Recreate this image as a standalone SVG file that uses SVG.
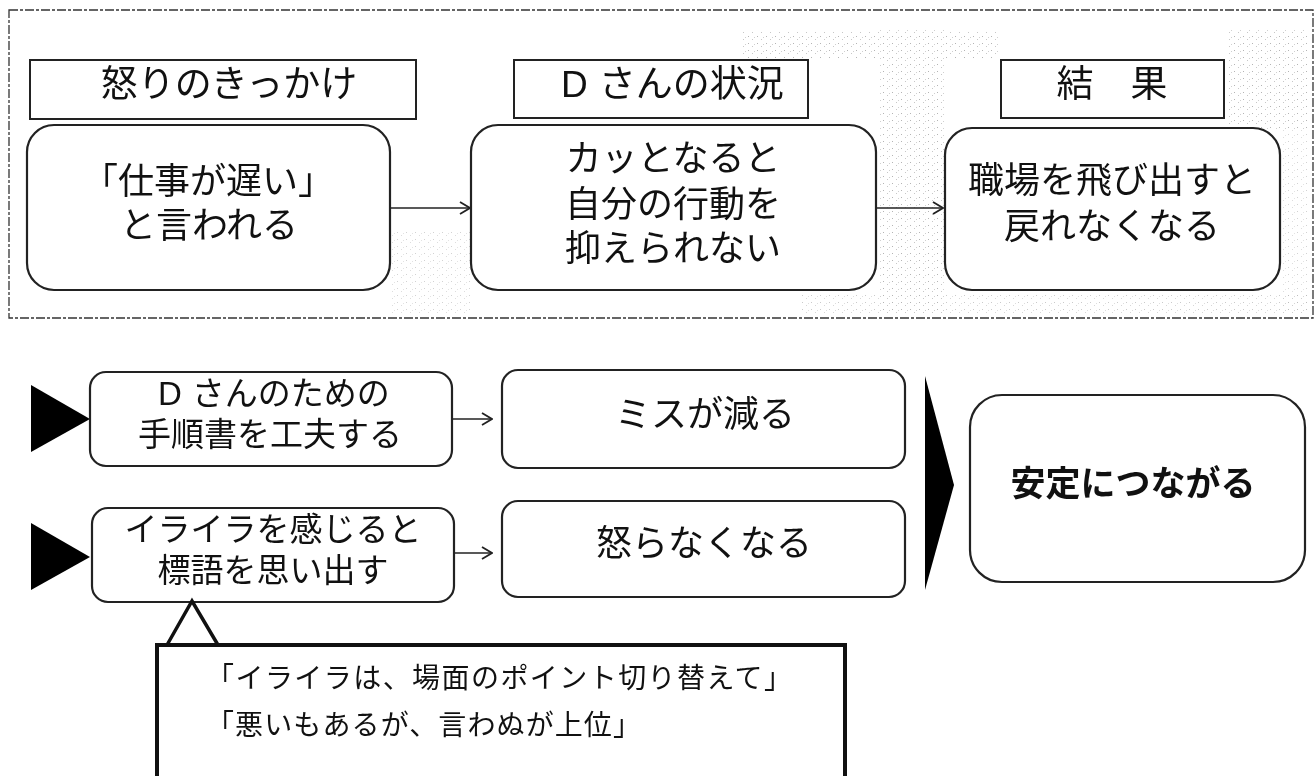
<svg xmlns="http://www.w3.org/2000/svg" width="1316" height="776" viewBox="0 0 1316 776">
  <defs>
    <style>
      .t { font-family: "Liberation Sans", "Noto Sans CJK JP", "Noto Sans CJK SC", sans-serif; fill: #111; }
      .big { font-size: 36px; }
      .lab { font-size: 37px; }
      .mid { font-size: 33px; }
      .sm { font-size: 28px; }
      .label { fill: #fff; stroke: #222; stroke-width: 2; }
      .node { fill: #fff; stroke: #222; stroke-width: 2.2; }
      .conn { stroke: #222; stroke-width: 1.6; fill: none; }
      .solid { fill: #000; }
    </style>
    <marker id="arr" viewBox="0 0 12 14" refX="11" refY="7" markerWidth="12" markerHeight="14" markerUnits="userSpaceOnUse" orient="auto">
      <path d="M1,1 L11,7 L1,13" fill="none" stroke="#222" stroke-width="1.8"/>
    </marker>
    <pattern id="speck" width="9" height="7" patternUnits="userSpaceOnUse">
      <rect x="1" y="1" width="1" height="1" fill="#777"/>
      <rect x="5" y="4" width="1" height="1" fill="#999"/>
      <rect x="7" y="2" width="1" height="1" fill="#aaa"/>
    </pattern>
  </defs>

  <rect width="1316" height="776" fill="#fff"/>

  <g id="frame">
    <rect x="9" y="10" width="1304" height="308" fill="#fff" stroke="#333" stroke-width="1.3" stroke-dasharray="9 2 3 2"/>
    <g opacity="0.55">
      <rect x="880" y="30" width="66" height="286" fill="url(#speck)"/>
      <rect x="1226" y="30" width="84" height="100" fill="url(#speck)"/>
      <rect x="740" y="32" width="260" height="26" fill="url(#speck)"/>
      <rect x="390" y="230" width="80" height="86" fill="url(#speck)" opacity="0.6"/>
      <rect x="800" y="292" width="510" height="24" fill="url(#speck)" opacity="0.7"/>
      <rect x="1282" y="130" width="28" height="186" fill="url(#speck)" opacity="0.6"/>
    </g>
  </g>

  <g id="connectors">
    <line class="conn" x1="390" y1="208" x2="470" y2="208" marker-end="url(#arr)"/>
    <line class="conn" x1="876" y1="208" x2="943" y2="208" marker-end="url(#arr)"/>
    <line class="conn" x1="452" y1="419" x2="492" y2="419" marker-end="url(#arr)"/>
    <line class="conn" x1="454" y1="553" x2="492" y2="553" marker-end="url(#arr)"/>
    <polygon class="solid" points="31,385 90,419 31,452"/>
    <polygon class="solid" points="31,523 90,557 31,590"/>
    <polygon class="solid" points="925,376 954,485 925,590"/>
  </g>

  <g id="label-trigger">
    <rect class="label" x="30" y="60" width="386" height="59"/>
    <text class="t lab" x="229" y="97" text-anchor="middle">怒りのきっかけ</text>
  </g>
  <g id="label-state">
    <rect class="label" x="514" y="60" width="294" height="58"/>
    <text class="t lab" x="561" y="97">D<tspan dx="11">さんの状況</tspan></text>
  </g>
  <g id="label-result">
    <rect class="label" x="1001" y="60" width="223" height="58"/>
    <text class="t lab" x="1112" y="97" text-anchor="middle">結　果</text>
  </g>

  <g id="node-trigger">
    <rect class="node" x="27" y="125" width="363" height="165" rx="27"/>
    <text class="t big" text-anchor="middle"><tspan x="208" y="194">「仕事が遅い」</tspan><tspan x="209" y="238">と言われる</tspan></text>
  </g>
  <g id="node-state">
    <rect class="node" x="471" y="125" width="405" height="165" rx="27"/>
    <text class="t big" text-anchor="middle"><tspan x="673" y="171">カッとなると</tspan><tspan x="673" y="217">自分の行動を</tspan><tspan x="673" y="261">抑えられない</tspan></text>
  </g>
  <g id="node-result">
    <rect class="node" x="945" y="128" width="335" height="162" rx="27"/>
    <text class="t big" text-anchor="middle"><tspan x="1112" y="193">職場を飛び出すと</tspan><tspan x="1112" y="239">戻れなくなる</tspan></text>
  </g>

  <g id="node-manual">
    <rect class="node" x="90" y="372" width="362" height="94" rx="16"/>
    <text class="t mid"><tspan x="158" y="405">D</tspan><tspan dx="10">さんのための</tspan><tspan x="270" y="446" text-anchor="middle">手順書を工夫する</tspan></text>
  </g>
  <g id="node-slogan">
    <rect class="node" x="92" y="508" width="362" height="94" rx="16"/>
    <text class="t mid" text-anchor="middle"><tspan x="273" y="541">イライラを感じると</tspan><tspan x="273" y="582">標語を思い出す</tspan></text>
  </g>
  <g id="node-fewer-errors">
    <rect class="node" x="502" y="370" width="403" height="98" rx="16"/>
    <text class="t big" x="705" y="427" text-anchor="middle">ミスが減る</text>
  </g>
  <g id="node-no-anger">
    <rect class="node" x="502" y="501" width="403" height="96" rx="16"/>
    <text class="t big" x="704" y="556" text-anchor="middle">怒らなくなる</text>
  </g>
  <g id="node-stable">
    <rect class="node" x="970" y="395" width="335" height="187" rx="32"/>
    <text class="t" x="1133" y="496" text-anchor="middle" font-size="35" font-weight="bold">安定につながる</text>
  </g>

  <g id="callout">
    <path d="M167,645 L192,601 L218,645" fill="none" stroke="#111" stroke-width="3.5" stroke-linejoin="miter"/>
    <path d="M157,780 L157,645 L845,645 L845,780" fill="#fff" stroke="#111" stroke-width="4"/>
    <text class="t sm"><tspan x="206" y="688" textLength="586" lengthAdjust="spacing">「イライラは、場面のポイント切り替えて」</tspan><tspan x="206" y="735" textLength="435" lengthAdjust="spacing">「悪いもあるが、言わぬが上位」</tspan></text>
  </g>
</svg>
